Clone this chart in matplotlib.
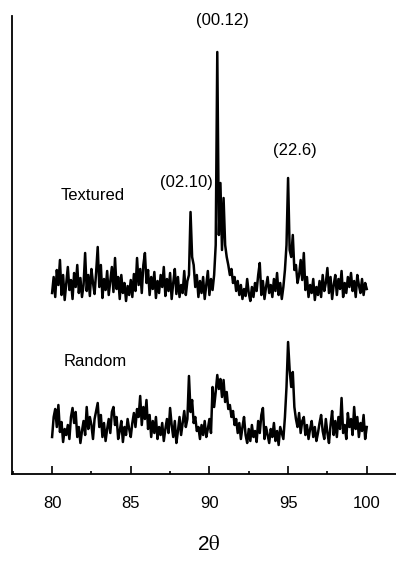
import numpy as np
import matplotlib
matplotlib.use("Agg")
import matplotlib.pyplot as plt
from matplotlib.ticker import MultipleLocator

plt.rcParams['font.family'] = ['Liberation Sans', 'DejaVu Sans']
plt.rcParams['mathtext.fontset'] = 'stix'

# 2-theta grid, step 0.1 deg
two_theta = np.round(np.arange(80.0, 100.0001, 0.1), 1)

textured = [
    12, 28, 8, 35, 20, 45, 10, 30, 5, 22,
    38, 15, 25, 6, 32, 18, 40, 12, 27, 8,
    20, 52, 14, 30, 9, 36, 22, 11, 33, 58,
    18, 40, 7, 26, 15, 34, 10, 24, 38, 13,
    47, 16, 28, 6, 30, 12, 22, 4, 19, 10,
    25, 8, 31, 14, 47, 20, 36, 12, 40, 52,
    22, 35, 10, 28, 16, 33, 7, 24, 12, 30,
    18, 38, 9, 26, 14, 32, 6, 22, 36, 11,
    28, 8, 20, 12, 34, 10, 24, 30, 93, 48,
    40, 18, 30, 8, 24, 12, 28, 6, 20, 34,
    10, 26, 15, 30, 60, 253, 70, 122, 55, 107,
    60, 48, 40, 30, 36, 22, 28, 14, 24, 10,
    20, 6, 16, 9, 26, 12, 4, 18, 8, 22,
    14, 30, 42, 10, 24, 6, 18, 28, 12, 20,
    8, 26, 14, 32, 10, 22, 6, 18, 35, 60,
    127, 55, 48, 70, 35, 40, 22, 30, 45, 25,
    52, 15, 28, 8, 20, 12, 26, 5, 18, 10,
    24, 8, 30, 14, 22, 37, 12, 28, 6, 20,
    30, 10, 26, 16, 34, 8, 22, 12, 28, 18,
    32, 14, 24, 8, 30, 20, 12, 26, 10, 22,
    16,
]

random_ = [
    10, 30, 38, 20, 42, 15, 25, 5, 18, 12,
    22, 8, 30, 39, 24, 35, 10, 20, 4, 16,
    26, 12, 40, 18, 30, 22, 8, 28, 36, 44,
    20, 32, 10, 24, 6, 18, 28, 14, 35, 40,
    22, 30, 8, 16, 26, 5, 20, 12, 28, 18,
    10, 24, 34, 20, 38, 30, 51, 22, 40, 28,
    47, 18, 32, 10, 26, 14, 30, 8, 20, 12,
    24, 6, 18, 28, 14, 39, 22, 10, 26, 4,
    16, 30, 12, 24, 36, 20, 28, 71, 35, 47,
    24, 30, 16, 20, 8, 22, 12, 26, 10, 18,
    28, 14, 60, 40, 55, 72, 58, 68, 50, 67,
    45, 55, 38, 42, 30, 36, 22, 28, 14, 24,
    8, 20, 30, 12, 4, 18, 6, 22, 10, 16,
    5, 26, 14, 32, 39, 8, 20, 12, 4, 18,
    10, 24, 6, 16, 2, 20, 14, 8, 30, 60,
    105, 77, 60, 75, 40, 28, 20, 34, 14, 26,
    30, 12, 22, 8, 18, 26, 10, 20, 6, 14,
    24, 32, 16, 8, 28, 14, 4, 22, 36, 12,
    26, 10, 30, 18, 49, 14, 22, 8, 34, 20,
    28, 12, 40, 18, 30, 10, 24, 16, 32, 8,
    20,
]

peak_labels = ["(00.12)", "(02.10)", "(22.6)"]
series_labels = ["Textured", "Random"]

textured_offset = 169
random_offset = 27

fig = plt.figure(figsize=(3.96, 5.63), dpi=100)
ax = fig.add_axes([11.5 / 396, 1 - 474 / 563, 1 - 11.5 / 396, 458 / 563])

ax.plot(two_theta, np.array(textured) + textured_offset, color='black', lw=1.8)
ax.plot(two_theta, np.array(random_) + random_offset, color='black', lw=1.8)

ax.set_xlim(77.42, 101.86)
ax.set_ylim(0, 458)

for s in ['top', 'right']:
    ax.spines[s].set_visible(False)
for s in ['left', 'bottom']:
    ax.spines[s].set_linewidth(1.3)

ax.set_yticks([])
ax.xaxis.set_major_locator(MultipleLocator(5))
ax.xaxis.set_minor_locator(MultipleLocator(2.5))
ax.set_xticks([80, 85, 90, 95, 100])
ax.tick_params(axis='x', which='major', direction='in', length=5.5, width=1.2,
               labelsize=12, pad=16)
ax.tick_params(axis='x', which='minor', direction='in', length=2.5, width=1.2)

ax.text(90.85, 454, peak_labels[0], ha='center', va='center', fontsize=12)
ax.text(88.56, 292, peak_labels[1], ha='center', va='center', fontsize=12)
ax.text(95.45, 324, peak_labels[2], ha='center', va='center', fontsize=12)
ax.text(82.6, 279, series_labels[0], ha='center', va='center', fontsize=12)
ax.text(82.73, 112, series_labels[1], ha='center', va='center', fontsize=12)

fig.text(209 / 396, 1 - 545 / 563, r'2$\mathrm{\theta}$', ha='center', va='center',
         fontsize=15)

fig.savefig("out.png", dpi=100)
